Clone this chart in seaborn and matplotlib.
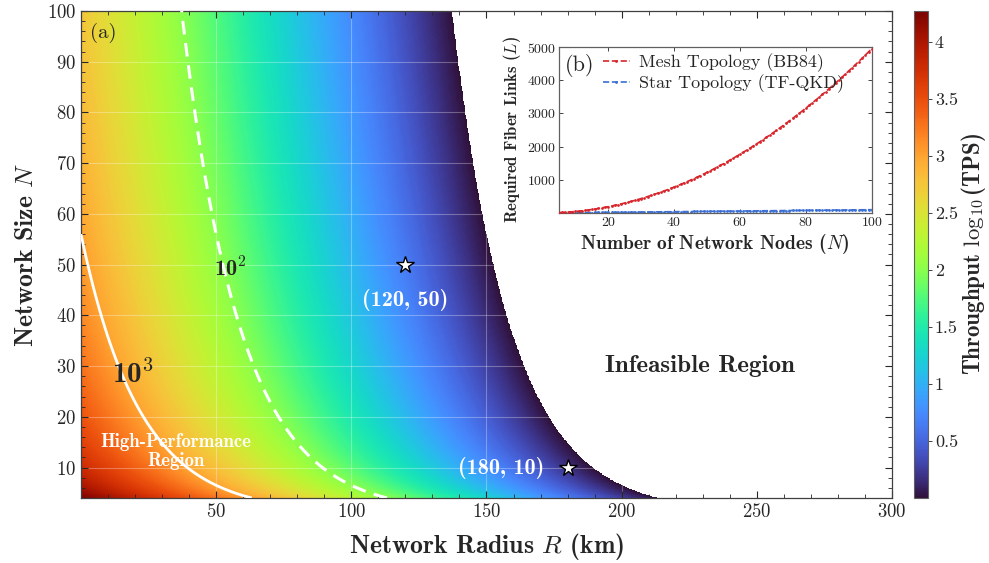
import numpy as np
import matplotlib
matplotlib.use('Agg')
import matplotlib.pyplot as plt
import seaborn as sns
from matplotlib.ticker import MultipleLocator

# ---- panel (a): throughput map ----
radius_km = np.linspace(0, 300, 1201)
network_size = np.linspace(4, 100, 769)
pair_rate_0km = 5.5e4
fiber_loss_db_km = 0.2
contour_levels = [2, 3]

marked_R = [120, 180]
marked_N = [50, 10]
marked_labels = ['(120, 50)', '(180, 10)']

# ---- panel (b): fibre links vs nodes ----
nodes = list(range(5, 101))
mesh_links = [10, 15, 21, 28, 36, 45, 55, 66, 78, 91, 105, 120, 136, 153, 171, 190,
              210, 231, 253, 276, 300, 325, 351, 378, 406, 435, 465, 496, 528, 561,
              595, 630, 666, 703, 741, 780, 820, 861, 903, 946, 990, 1035, 1081, 1128,
              1176, 1225, 1275, 1326, 1378, 1431, 1485, 1540, 1596, 1653, 1711, 1770,
              1830, 1891, 1953, 2016, 2080, 2145, 2211, 2278, 2346, 2415, 2485, 2556,
              2628, 2701, 2775, 2850, 2926, 3003, 3081, 3160, 3240, 3321, 3403, 3486,
              3570, 3655, 3741, 3828, 3916, 4005, 4095, 4186, 4278, 4371, 4465, 4560,
              4656, 4753, 4851, 4950]
star_links = [4, 5, 6, 7, 8, 9, 10, 11, 12, 13, 14, 15, 16, 17, 18, 19, 20, 21, 22, 23,
              24, 25, 26, 27, 28, 29, 30, 31, 32, 33, 34, 35, 36, 37, 38, 39, 40, 41, 42,
              43, 44, 45, 46, 47, 48, 49, 50, 51, 52, 53, 54, 55, 56, 57, 58, 59, 60, 61,
              62, 63, 64, 65, 66, 67, 68, 69, 70, 71, 72, 73, 74, 75, 76, 77, 78, 79, 80,
              81, 82, 83, 84, 85, 86, 87, 88, 89, 90, 91, 92, 93, 94, 95, 96, 97, 98, 99]

sns.set_style('ticks')
plt.rcParams['font.family'] = ['cmr10', 'DejaVu Serif']
plt.rcParams['mathtext.fontset'] = 'cm'
plt.rcParams['axes.formatter.use_mathtext'] = True
plt.rcParams['axes.unicode_minus'] = False

RR, NN = np.meshgrid(radius_km, network_size)
eta = 10 ** (-fiber_loss_db_km * 2 * RR / 10)
log_tps = np.log10(pair_rate_0km * np.sqrt(eta) / (NN - 1))
shown = np.ma.masked_where(log_tps < 0, log_tps)

cmap = plt.get_cmap('turbo').copy()
cmap.set_bad('white')

fig = plt.figure(figsize=(9.89, 5.63), dpi=100)
ax = fig.add_axes([0.0819, 0.1155, 0.820, 0.865])
im = ax.imshow(shown, origin='lower', extent=[0, 300, 4, 100], aspect='auto',
               cmap=cmap, vmin=0, vmax=4.27, interpolation='nearest', zorder=0)
ax.grid(True, color='white', alpha=0.3, linewidth=0.8, zorder=1)

cs2 = ax.contour(radius_km, network_size, log_tps, levels=[contour_levels[0]],
                 colors='white', linewidths=2.2, zorder=3)
cs2.set_linestyle((0, (4.5, 2.8)))
ax.contour(radius_km, network_size, log_tps, levels=[contour_levels[1]],
           colors='white', linewidths=2.0, linestyles='solid', zorder=3)

ax.plot(marked_R, marked_N, linestyle='none', marker='*', markersize=13,
        markerfacecolor='white', markeredgecolor='black', markeredgewidth=1.0, zorder=5)
ax.text(120, 43, marked_labels[0], color='white', fontsize=16, family='cmb10',
        ha='center', va='center', zorder=6)
ax.text(171.5, 10, marked_labels[1], color='white', fontsize=16, family='cmb10',
        ha='right', va='center', zorder=6)

ax.text(55, 49.3, r'10$^{\mathbf{2}}$', fontsize=16, family='cmb10',
        ha='center', va='center', zorder=6)
ax.text(19, 28.3, r'10$^{\mathbf{3}}$', fontsize=21, family='cmb10',
        ha='center', va='center', zorder=6)
ax.text(35, 13.2, 'High-Performance\nRegion', color='white', fontsize=13.5,
        family='cmb10', ha='center', va='center', linespacing=1.05, zorder=6)
ax.text(229, 30, 'Infeasible Region', fontsize=18, family='cmb10',
        ha='center', va='center', zorder=6)
ax.text(0.011, 0.975, '(a)', transform=ax.transAxes, fontsize=15,
        ha='left', va='top', zorder=6)

ax.set_xlim(0, 300)
ax.set_ylim(4, 100)
ax.set_xticks([50, 100, 150, 200, 250, 300])
ax.set_yticks(list(range(10, 101, 10)))
ax.xaxis.set_minor_locator(MultipleLocator(10))
ax.yaxis.set_minor_locator(MultipleLocator(2))
ax.tick_params(which='both', direction='in', top=True, right=True, labelsize=13.5)
ax.tick_params(which='major', length=5, width=0.8)
ax.tick_params(which='minor', length=3, width=0.6)
for s in ax.spines.values():
    s.set_color('#404040')
    s.set_linewidth(0.9)
ax.set_xlabel(r'Network Radius $R$ (km)', fontsize=18.5, family='cmb10', labelpad=7)
ax.set_ylabel(r'Network Size $N$', fontsize=18.5, family='cmb10', labelpad=6)

cax = fig.add_axes([0.924, 0.1155, 0.0142, 0.865])
cb = fig.colorbar(im, cax=cax)
cb.set_ticks([0.5, 1, 1.5, 2, 2.5, 3, 3.5, 4])
cb.set_ticklabels(['0.5', '1', '1.5', '2', '2.5', '3', '3.5', '4'])
cb.ax.tick_params(labelsize=13, length=3, width=0.6, pad=2)
cb.outline.set_edgecolor('#606060')
cb.set_label(r'Throughput $\log_{10}$(TPS)', fontsize=16.5, family='cmb10', labelpad=1)

# inset (b)
axin = fig.add_axes([0.565, 0.6217, 0.3165, 0.2948])
axin.set_facecolor('white')
sns.lineplot(x=nodes, y=mesh_links, ax=axin, color='#d7262b', linestyle='--',
             marker='.', markersize=4, markeredgewidth=0, linewidth=1.2,
             label='Mesh Topology (BB84)', zorder=3)
sns.lineplot(x=nodes, y=star_links, ax=axin, color='#3b6fd4', linestyle='--',
             marker='.', markersize=4, markeredgewidth=0, linewidth=1.2,
             label='Star Topology (TF-QKD)', zorder=2)
axin.set_xlim(5, 100)
axin.set_ylim(0, 5000)
axin.set_xticks([20, 40, 60, 80, 100])
axin.set_yticks([1000, 2000, 3000, 4000, 5000])
axin.tick_params(which='both', direction='in', top=True, right=True, labelsize=10,
                 length=3, width=0.6, pad=2)
for s in axin.spines.values():
    s.set_color('#606060')
    s.set_linewidth(0.9)
axin.set_xlabel(r'Number of Network Nodes ($N$)', fontsize=14, family='cmb10', labelpad=2)
axin.set_ylabel(r'Required Fiber Links ($L$)', fontsize=12, family='cmb10', labelpad=3)
axin.text(0.02, 0.96, '(b)', transform=axin.transAxes, fontsize=16, ha='left', va='top')
axin.legend(loc='upper left', bbox_to_anchor=(0.1, 1.04), frameon=False, fontsize=13,
            handlelength=1.5, handletextpad=0.5, labelspacing=0.15, borderaxespad=0.3)

fig.savefig('out.png', dpi=100)
